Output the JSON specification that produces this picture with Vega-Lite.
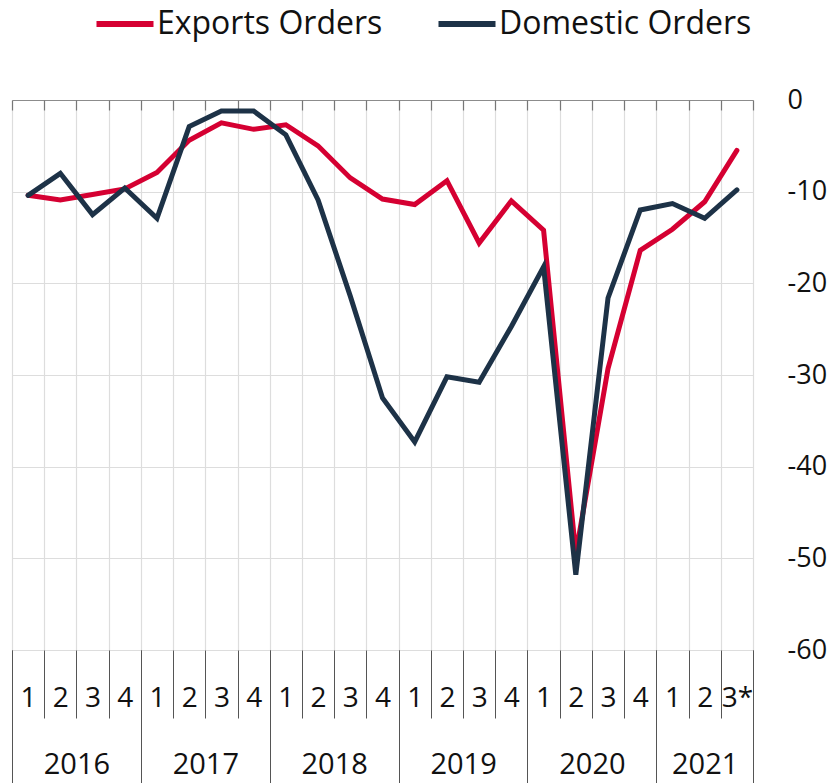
{
  "$schema": "https://vega.github.io/schema/vega-lite/v6.json",
  "width": 741,
  "height": 550,
  "autosize": {"type": "none"},
  "padding": {"left": 12, "top": 100, "right": 82, "bottom": 133},
  "background": "white",
  "config": {
    "view": {"stroke": null},
    "font": "Open Sans",
    "axis": {"labelFont": "Open Sans", "labelColor": "#111"},
    "legend": {"labelFont": "Open Sans"}
  },
  "data": {
    "values": [
      {"t": 0, "series": "Exports Orders", "value": -10.4},
      {"t": 1, "series": "Exports Orders", "value": -10.9},
      {"t": 2, "series": "Exports Orders", "value": -10.3},
      {"t": 3, "series": "Exports Orders", "value": -9.7},
      {"t": 4, "series": "Exports Orders", "value": -7.9},
      {"t": 5, "series": "Exports Orders", "value": -4.4},
      {"t": 6, "series": "Exports Orders", "value": -2.5},
      {"t": 7, "series": "Exports Orders", "value": -3.2},
      {"t": 8, "series": "Exports Orders", "value": -2.7},
      {"t": 9, "series": "Exports Orders", "value": -5.0},
      {"t": 10, "series": "Exports Orders", "value": -8.5},
      {"t": 11, "series": "Exports Orders", "value": -10.8},
      {"t": 12, "series": "Exports Orders", "value": -11.4},
      {"t": 13, "series": "Exports Orders", "value": -8.8},
      {"t": 14, "series": "Exports Orders", "value": -15.6},
      {"t": 15, "series": "Exports Orders", "value": -11.0},
      {"t": 16, "series": "Exports Orders", "value": -14.2},
      {"t": 17, "series": "Exports Orders", "value": -49.5},
      {"t": 18, "series": "Exports Orders", "value": -29.3},
      {"t": 19, "series": "Exports Orders", "value": -16.4},
      {"t": 20, "series": "Exports Orders", "value": -14.1},
      {"t": 21, "series": "Exports Orders", "value": -11.1},
      {"t": 22, "series": "Exports Orders", "value": -5.5},
      {"t": 0, "series": "Domestic Orders", "value": -10.4},
      {"t": 1, "series": "Domestic Orders", "value": -8.0},
      {"t": 2, "series": "Domestic Orders", "value": -12.5},
      {"t": 3, "series": "Domestic Orders", "value": -9.6},
      {"t": 4, "series": "Domestic Orders", "value": -12.9},
      {"t": 5, "series": "Domestic Orders", "value": -2.9},
      {"t": 6, "series": "Domestic Orders", "value": -1.2},
      {"t": 7, "series": "Domestic Orders", "value": -1.2},
      {"t": 8, "series": "Domestic Orders", "value": -3.8},
      {"t": 9, "series": "Domestic Orders", "value": -10.9},
      {"t": 10, "series": "Domestic Orders", "value": -21.4},
      {"t": 11, "series": "Domestic Orders", "value": -32.5},
      {"t": 12, "series": "Domestic Orders", "value": -37.3},
      {"t": 13, "series": "Domestic Orders", "value": -30.2},
      {"t": 14, "series": "Domestic Orders", "value": -30.8},
      {"t": 15, "series": "Domestic Orders", "value": -24.7},
      {"t": 16, "series": "Domestic Orders", "value": -18.2},
      {"t": 17, "series": "Domestic Orders", "value": -51.8},
      {"t": 18, "series": "Domestic Orders", "value": -21.6},
      {"t": 19, "series": "Domestic Orders", "value": -12.0},
      {"t": 20, "series": "Domestic Orders", "value": -11.3},
      {"t": 21, "series": "Domestic Orders", "value": -12.9},
      {"t": 22, "series": "Domestic Orders", "value": -9.8}
    ]
  },
  "encoding": {
    "y": {
      "field": "value",
      "type": "quantitative",
      "scale": {"domain": [-60, 0], "nice": false, "zero": false},
      "axis": {
        "orient": "right",
        "title": null,
        "values": [-60, -50, -40, -30, -20, -10, 0],
        "labelExpr": "'' + datum.value",
        "domain": false,
        "ticks": false,
        "grid": true,
        "gridColor": {"condition": {"test": "datum.value === 0", "value": "#8c8c8c"}, "value": "#dddddd"},
        "gridWidth": 1.2,
        "labelFontSize": 27,
        "labelPadding": 34,
        "labelAlign": "left",
        "labelBaseline": "middle",
        "labelBound": false,
        "labelOverlap": false
      }
    }
  },
  "resolve": {"axis": {"x": "independent"}},
  "layer": [
    {
      "mark": {"type": "point", "opacity": 0},
      "encoding": {
        "x": {
          "field": "t",
          "type": "quantitative",
          "scale": {"domain": [-0.5, 22.5], "nice": false, "zero": false},
          "axis": {
            "orient": "bottom",
            "title": null,
            "values": [0, 1, 2, 3, 4, 5, 6, 7, 8, 9, 10, 11, 12, 13, 14, 15, 16, 17, 18, 19, 20, 21, 22],
            "labelExpr": "datum.value == 22 ? '3*' : '' + ((datum.value % 4) + 1)",
            "domain": false,
            "ticks": false,
            "grid": false,
            "labelFontSize": 28,
            "labelPadding": 48,
            "labelBaseline": "middle",
            "labelAlign": "center",
            "labelBound": false,
            "labelOverlap": false,
            "labelFlush": false
          }
        }
      }
    },
    {
      "mark": {"type": "point", "opacity": 0},
      "encoding": {
        "x": {
          "field": "t",
          "type": "quantitative",
          "axis": {
            "orient": "bottom",
            "title": null,
            "values": [1.5, 5.5, 9.5, 13.5, 17.5, 21],
            "labelExpr": "'' + (2016 + floor(datum.value / 4))",
            "domain": false,
            "ticks": false,
            "grid": false,
            "labelFontSize": 29,
            "labelPadding": 114,
            "labelBaseline": "middle",
            "labelAlign": "center",
            "labelBound": false,
            "labelOverlap": false,
            "labelFlush": false
          }
        }
      }
    },
    {
      "mark": {"type": "point", "opacity": 0},
      "encoding": {
        "x": {
          "field": "t",
          "type": "quantitative",
          "axis": {
            "orient": "top",
            "title": null,
            "values": [-0.5, 0.5, 1.5, 2.5, 3.5, 4.5, 5.5, 6.5, 7.5, 8.5, 9.5, 10.5, 11.5, 12.5, 13.5, 14.5, 15.5, 16.5, 17.5, 18.5, 19.5, 20.5, 21.5, 22.5],
            "labels": false,
            "domain": false,
            "ticks": true,
            "tickSize": -10,
            "tickColor": "#777",
            "tickWidth": 1.2,
            "grid": false
          }
        }
      }
    },
    {
      "transform": [{"filter": "datum.series == 'Exports Orders'"}],
      "mark": {"type": "line", "strokeWidth": 5, "strokeJoin": "miter", "strokeCap": "round"},
      "encoding": {
        "x": {
          "field": "t",
          "type": "quantitative",
          "axis": {
            "orient": "bottom",
            "title": null,
            "values": [-0.5, 0.5, 1.5, 2.5, 3.5, 4.5, 5.5, 6.5, 7.5, 8.5, 9.5, 10.5, 11.5, 12.5, 13.5, 14.5, 15.5, 16.5, 17.5, 18.5, 19.5, 20.5, 21.5, 22.5],
            "labels": false,
            "domain": false,
            "ticks": true,
            "tickSize": 68,
            "tickColor": "#555",
            "tickWidth": 1,
            "grid": true,
            "gridColor": "#dddddd",
            "gridWidth": 1.2
          }
        },
        "color": {
          "field": "series",
          "type": "nominal",
          "scale": {"domain": ["Exports Orders", "Domestic Orders"], "range": ["#D50032", "#1D3247"]},
          "legend": {
            "title": null,
            "orient": "none",
            "legendX": 81,
            "legendY": -108,
            "direction": "horizontal",
            "symbolType": "stroke",
            "symbolStrokeWidth": 6,
            "symbolSize": 3250,
            "labelFontSize": 32,
            "labelLimit": 0,
            "labelColor": "#111",
            "labelOffset": 0,
            "columnPadding": 43,
            "padding": 0
          }
        }
      }
    },
    {
      "transform": [{"filter": "datum.series == 'Domestic Orders'"}],
      "mark": {"type": "line", "strokeWidth": 5, "strokeJoin": "miter", "strokeCap": "round"},
      "encoding": {
        "x": {
          "field": "t",
          "type": "quantitative",
          "axis": {
            "orient": "bottom",
            "title": null,
            "values": [-0.5, 3.5, 7.5, 11.5, 15.5, 19.5, 22.5],
            "labels": false,
            "domain": false,
            "ticks": true,
            "tickSize": 133,
            "tickColor": "#555",
            "tickWidth": 1,
            "grid": false
          }
        },
        "color": {"field": "series", "type": "nominal"}
      }
    }
  ]
}
